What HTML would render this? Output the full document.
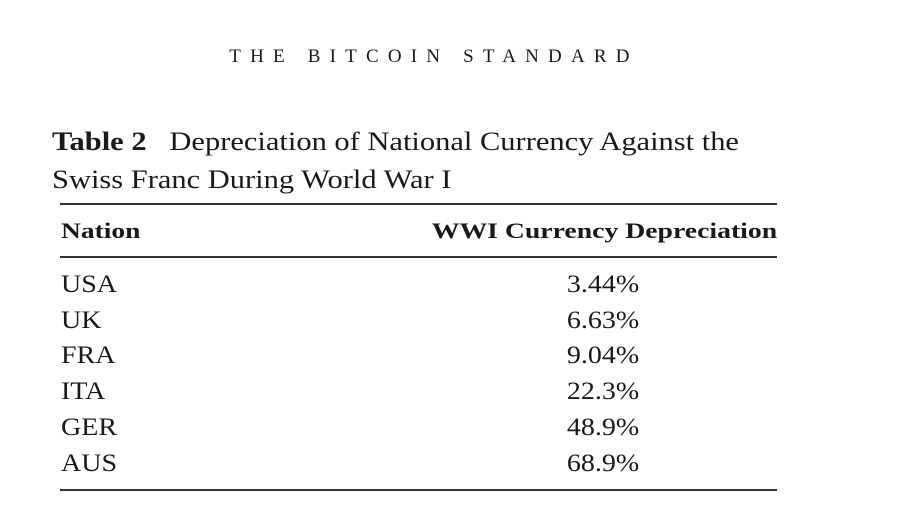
<!DOCTYPE html>
<html><head><meta charset="utf-8">
<style>
body{margin:0;width:912px;height:532px;background:#fff;position:relative;overflow:hidden;font-family:"Liberation Serif",serif;color:#1a1a1a}
.a{position:absolute;white-space:nowrap}
.line{position:absolute;left:60px;width:717px;height:2px;background:#333}
.row{position:absolute;left:61px;font-size:25px;transform:scaleX(1.12);transform-origin:left}
.val{position:absolute;width:200px;left:503px;text-align:center;font-size:25px;transform:scaleX(1.12)}
</style></head><body>
<div class="a" style="left:0;width:868px;text-align:center;top:46px;font-size:19px;letter-spacing:9.2px">THE BITCOIN STANDARD</div>
<div class="a" style="left:52px;top:122px;font-size:26.5px;line-height:38px;transform:scaleX(1.15);transform-origin:left"><b>Table 2</b>&nbsp;&nbsp; Depreciation of National Currency Against the<br>Swiss Franc During World War I</div>
<div class="line" style="top:203px"></div>
<div class="a" style="left:61px;top:218px;font-size:22px;font-weight:bold;transform:scaleX(1.25);transform-origin:left">Nation</div>
<div class="a" style="right:135px;top:218px;font-size:22px;font-weight:bold;transform:scaleX(1.26);transform-origin:right">WWI Currency Depreciation</div>
<div class="line" style="top:256px"></div>
<div id="rows"></div>
<div class="line" style="top:489px"></div>
<script>
const nations=["USA","UK","FRA","ITA","GER","AUS"];
const values=["3.44%","6.63%","9.04%","22.3%","48.9%","68.9%"];
const c=document.getElementById('rows');
nations.forEach((n,i)=>{
const y=271+i*35.7;
const d=document.createElement('div');d.className='row';d.style.top=y+'px';d.textContent=n;


c.appendChild(d);
const v=document.createElement('div');v.className='val';v.style.top=y+'px';v.textContent=values[i];


c.appendChild(v);
});
</script>
</body></html>
